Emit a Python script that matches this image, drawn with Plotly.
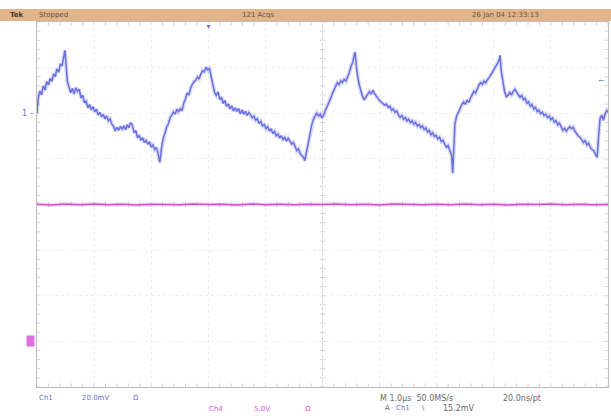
import plotly.graph_objects as go

# ---------------- data ----------------
# Channel 1 (mV) vs time (us, relative to trigger)
ch1_t = [-3.00,-2.98,-2.95,-2.92,-2.89,-2.86,-2.83,-2.80,-2.77,-2.74,-2.71,-2.68,-2.65,-2.62,-2.59,-2.56,-2.53,-2.51,
         -2.49,-2.47,-2.44,-2.41,-2.38,-2.35,-2.32,-2.29,-2.26,-2.23,-2.20,-2.17,-2.14,-2.11,-2.08,-2.05,-2.02,-1.99,
         -1.96,-1.93,-1.90,-1.87,-1.84,-1.81,-1.78,-1.75,-1.72,-1.69,-1.66,-1.63,-1.60,-1.57,-1.54,-1.51,-1.48,-1.45,
         -1.42,-1.39,-1.36,-1.33,-1.30,-1.27,-1.24,-1.21,-1.18,-1.15,-1.12,-1.09,-1.06,-1.03,-1.00,-0.97,-0.94,-0.91,
         -0.88,-0.86,-0.85,-0.82,-0.79,-0.76,-0.73,-0.70,-0.67,-0.64,-0.61,-0.58,-0.55,-0.52,-0.49,-0.46,-0.43,-0.40,
         -0.37,-0.34,-0.31,-0.28,-0.25,-0.22,-0.19,-0.16,-0.13,-0.10,-0.07,-0.04,-0.01,0.02,0.05,0.08,0.11,0.14,0.17,
         0.20,0.23,0.26,0.29,0.32,0.35,0.38,0.41,0.44,0.47,0.50,0.53,0.56,0.59,0.62,0.65,0.68,0.71,0.74,0.77,0.80,
         0.83,0.86,0.89,0.92,0.95,0.98,1.01,1.04,1.07,1.10,1.13,1.16,1.19,1.22,1.25,1.28,1.31,1.34,1.37,1.40,1.43,
         1.46,1.49,1.52,1.55,1.58,1.61,1.64,1.67,1.69,1.72,1.75,1.78,1.81,1.84,1.87,1.90,1.93,1.96,1.99,2.02,2.05,
         2.08,2.11,2.14,2.17,2.20,2.23,2.26,2.29,2.32,2.35,2.38,2.41,2.44,2.47,2.50,2.53,2.55,2.57,2.59,2.61,2.64,
         2.67,2.70,2.73,2.76,2.79,2.82,2.85,2.88,2.91,2.94,2.97,3.00,3.03,3.06,3.09,3.12,3.15,3.18,3.21,3.24,3.27,
         3.30,3.33,3.36,3.39,3.42,3.45,3.48,3.51,3.54,3.57,3.60,3.63,3.66,3.69,3.72,3.75,3.78,3.81,3.84,3.87,3.90,
         3.93,3.96,3.99,4.02,4.05,4.08,4.11,4.14,4.17,4.20,4.23,4.26,4.28,4.30,4.32,4.35,4.38,4.41,4.44,4.47,4.50,
         4.53,4.56,4.59,4.62,4.65,4.68,4.71,4.74,4.77,4.80,4.83,4.86,4.89,4.92,4.95,4.98,5.01,5.04,5.07,5.10,5.11,
         5.13,5.16,5.19,5.22,5.25,5.28,5.31,5.34,5.37,5.40,5.43,5.46,5.49,5.52,5.55,5.58,5.61,5.64,5.67,5.70,5.73,
         5.76,5.79,5.82,5.85,5.88,5.91,5.94,5.97,6.00,6.03,6.06,6.09,6.12,6.15,6.18,6.21,6.24,6.27,6.30,6.33,6.36,
         6.39,6.42,6.45,6.48,6.51,6.54,6.57,6.60,6.63,6.66,6.69,6.72,6.75,6.78,6.81,6.83,6.86,6.89,6.92,6.95,6.98,7.00]
ch1_mv = [0.0,6.5,9.8,8.1,12.0,10.2,13.9,12.4,15.3,14.0,17.2,16.1,19.4,18.0,21.6,20.8,24.9,27.6,
          21.0,14.2,11.5,9.0,10.9,8.4,11.2,9.6,10.5,6.8,7.9,4.6,5.3,2.4,3.8,1.5,2.9,0.6,
          1.8,-0.7,0.4,-1.6,-0.5,-2.4,-1.2,-3.3,-2.5,-4.8,-5.6,-7.8,-6.2,-7.4,-5.8,-6.9,-5.5,-7.2,
          -5.0,-6.4,-4.1,-5.2,-8.6,-7.5,-10.8,-9.6,-11.9,-10.7,-12.8,-11.9,-13.6,-12.5,-14.8,-13.9,-15.9,-15.0,
          -17.6,-19.8,-21.5,-15.4,-10.8,-8.9,-6.0,-4.7,-2.1,-0.8,0.6,-0.4,1.8,0.7,2.0,1.1,4.6,6.2,
          8.9,8.0,11.0,12.6,13.9,14.5,15.9,15.0,17.4,18.6,18.1,20.2,19.0,19.6,16.0,12.2,9.0,7.9,9.4,
          6.0,7.1,4.3,5.6,3.0,4.1,1.9,3.2,1.0,2.4,0.8,2.1,-0.2,1.4,-0.5,0.9,-1.0,0.3,-0.6,-2.0,-1.3,
          -3.1,-2.4,-4.5,-3.6,-5.6,-4.9,-6.7,-5.9,-7.8,-6.8,-8.9,-8.0,-9.9,-9.1,-10.9,-9.8,-11.5,-10.6,-12.2,-11.0,-12.4,
          -13.5,-12.8,-15.1,-16.4,-15.6,-17.8,-18.6,-19.4,-20.8,-17.0,-12.4,-8.6,-5.2,-2.8,-1.0,0.2,-1.2,-0.4,-2.0,-0.9,1.2,
          2.8,4.9,6.3,8.5,10.2,12.1,13.4,12.6,14.2,13.5,14.9,14.1,15.8,17.9,20.6,22.3,24.8,26.8,21.5,16.8,12.9,
          9.6,7.4,5.9,7.0,8.2,9.5,8.3,10.1,8.7,7.4,6.5,5.6,4.8,4.2,3.5,4.0,2.6,3.1,1.3,1.9,0.4,
          1.0,-0.9,-1.8,-1.0,-2.6,-1.9,-3.4,-2.6,-4.1,-3.3,-4.8,-4.0,-5.6,-4.9,-6.3,-5.5,-7.1,-6.4,-8.2,-7.5,-9.4,
          -8.5,-10.2,-9.6,-11.3,-10.5,-12.4,-11.8,-13.6,-14.9,-14.2,-16.5,-18.4,-26.3,-12.0,-4.4,-1.2,0.4,2.6,3.8,4.9,3.9,
          5.8,4.7,6.6,8.3,9.6,8.8,11.0,12.4,13.5,12.6,14.1,13.4,14.8,15.6,16.9,18.2,19.4,21.0,22.1,24.0,25.4,
          18.6,12.8,9.4,7.2,7.9,9.1,8.0,9.6,10.5,9.2,8.1,7.0,7.8,5.9,6.5,4.4,5.0,3.1,3.8,1.9,2.6,
          0.8,1.4,-0.2,0.5,-1.0,-0.4,-1.9,-1.2,-2.8,-2.1,-3.9,-3.2,-5.1,-4.3,-6.2,-7.5,-6.6,-7.9,-6.8,-5.9,-6.8,
          -6.1,-7.9,-9.2,-10.0,-10.5,-11.6,-12.8,-12.0,-13.9,-13.1,-15.0,-15.9,-16.4,-18.0,-19.3,-11.8,-2.4,-0.8,-3.1,-0.2,1.2,0.4]

# Channel 4 (V) vs time (us)
ch4_t = [-3.00,-2.75,-2.50,-2.25,-2.00,-1.75,-1.50,-1.25,-1.00,-0.75,-0.50,-0.25,0.00,0.25,0.50,0.75,1.00,1.25,
         1.50,1.75,2.00,2.25,2.50,2.75,3.00,3.25,3.50,3.75,4.00,4.25,4.50,4.75,5.00,5.25,5.50,5.75,6.00,6.25,6.50,6.75,7.00]
ch4_v = [15.02,14.95,15.05,14.97,15.06,14.98,15.03,14.94,15.04,15.00,14.96,15.05,14.99,15.03,14.95,15.06,14.98,15.02,
         14.96,15.04,14.99,15.05,14.97,15.03,14.95,15.06,15.00,14.96,15.04,14.98,15.05,14.97,15.02,14.95,15.04,14.99,
         15.06,14.97,15.03,14.96,15.01]

ch1_scale_mv = 20.0     # mV/div
ch1_offset_div = 2.0    # ground marker position (div)
ch4_scale_v = 5.0       # V/div
ch4_offset_div = -3.0
trig_level_mv = 15.2

header_left = ["Tek", "Stopped"]
header_mid = "121 Acqs"
header_right = "26 Jan 04 12:33:13"

# ---------------- figure ----------------
BLUE = "#6a70e2"
MAG = "#d452d4"
GRID = "#efefef"
TICK = "#d2d2d2"

y1 = [v / ch1_scale_mv + ch1_offset_div for v in ch1_mv]
y4 = [v / ch4_scale_v + ch4_offset_div for v in ch4_v]

fig = go.Figure()
# soft halo (blurred phosphor look) + main lines
fig.add_trace(go.Scatter(x=ch4_t, y=y4, mode="lines", line=dict(color=MAG, width=3.5), opacity=0.25, hoverinfo="skip"))
fig.add_trace(go.Scatter(x=ch4_t, y=y4, mode="lines", line=dict(color=MAG, width=1.5), hoverinfo="skip"))
fig.add_trace(go.Scatter(x=ch1_t, y=y1, mode="lines", line=dict(color=BLUE, width=4), opacity=0.25, hoverinfo="skip"))
fig.add_trace(go.Scatter(x=ch1_t, y=y1, mode="lines", line=dict(color=BLUE, width=1.5), hoverinfo="skip"))

W, H = 611, 416
L, R, T, B = 37, 3, 22, 29
pw, ph = W - L - R, H - T - B

def px(xp):
    return (xp - L) / pw

def py(yp):
    return (H - B - yp) / ph

shapes = []
# center cross lines
shapes.append(dict(type="line", xref="x", yref="y", x0=2, x1=2, y0=-4, y1=4, line=dict(color="#dadada", width=1), layer="below"))
shapes.append(dict(type="line", xref="x", yref="y", x0=-3, x1=7, y0=0, y1=0, line=dict(color="#dadada", width=1), layer="below"))
# minor ticks along center lines and edges
for i in range(-20, 21):
    yv = i * 0.2
    for xc, hl in ((2, 0.05), (-3, 0.06), (7, 0.06)):
        x0 = max(-3, xc - hl)
        x1 = min(7, xc + hl)
        shapes.append(dict(type="line", xref="x", yref="y", x0=x0, x1=x1, y0=yv, y1=yv,
                           line=dict(color=TICK, width=1), layer="below"))
for i in range(0, 51):
    xv = -3 + i * 0.2
    for yc, hl in ((0, 0.06), (-4, 0.08), (4, 0.08)):
        y0 = max(-4, yc - hl)
        y1_ = min(4, yc + hl)
        shapes.append(dict(type="line", xref="x", yref="y", x0=xv, x1=xv, y0=y0, y1=y1_,
                           line=dict(color=TICK, width=1), layer="below"))
# header bar
shapes.append(dict(type="rect", xref="paper", yref="paper", x0=px(0), x1=px(W), y0=py(21), y1=py(9),
                   fillcolor="#e2b48a", line=dict(width=0), layer="above"))

fig.update_layout(shapes=shapes)

ann = []
def txt(x, y, s, color="#6a6a6a", size=8, anchor="left", bold=False):
    ann.append(dict(x=px(x), y=py(y), xref="paper", yref="paper", text=("<b>%s</b>" % s) if bold else s,
                    showarrow=False, xanchor=anchor, yanchor="middle",
                    font=dict(family="DejaVu Sans", size=size, color=color)))

# header texts
txt(8, 15, header_left[0], color="#4a3a30", size=7, bold=True)
txt(37, 15, header_left[1], color="#6a5040", size=7)
txt(240, 15, header_mid, color="#6a5040", size=7)
txt(470, 15, header_right, color="#6a5040", size=7)

# bottom readouts
txt(37, 398, "Ch1", color=BLUE, size=7)
txt(80, 398, "20.0mV", color=BLUE, size=7)
txt(131, 398, "Ω", color=BLUE, size=7)
txt(207, 409, "Ch4", color=MAG, size=7)
txt(252, 409, "5.0V", color=MAG, size=7)
txt(303, 409, "Ω", color=MAG, size=7)
txt(378, 398, "M 1.0μs  50.0MS/s", color="#6a6a6a", size=8)
txt(501, 398, "20.0ns/pt", color="#6a6a6a", size=8)
txt(383, 408, "A", color="#6a6a6a", size=7)
txt(394, 408, "Ch1", color=BLUE, size=7)
txt(420, 408, "\\", color="#6a6a6a", size=7)
txt(441, 408, "15.2mV", color="#6a6a6a", size=8)

# channel ground markers
ann.append(dict(x=-3, y=ch1_offset_div, xref="x", yref="y", text="1 –", showarrow=False, xanchor="right",
                yanchor="middle", xshift=-1, font=dict(family="DejaVu Sans", size=8, color=BLUE)))
ann.append(dict(x=-3, y=ch4_offset_div, xref="x", yref="y", text="4", showarrow=False, xanchor="right",
                yanchor="middle", xshift=-2, bgcolor="#e070e0", font=dict(family="DejaVu Sans", size=7, color="#e070e0"),
                borderpad=1))
# trigger markers
ann.append(dict(x=0, y=4, xref="x", yref="y", text="▼", showarrow=False, xanchor="center", yanchor="top",
                yshift=2, font=dict(size=7, color=BLUE)))
ann.append(dict(x=7, y=trig_level_mv / ch1_scale_mv + ch1_offset_div, xref="x", yref="y", text="←",
                showarrow=False, xanchor="right", yanchor="middle", font=dict(size=9, color="#4a55b0")))

fig.update_layout(
    annotations=ann,
    width=W, height=H,
    margin=dict(l=L, r=R, t=T, b=B),
    paper_bgcolor="white", plot_bgcolor="white",
    showlegend=False,
    xaxis=dict(range=[-3, 7], tick0=-3, dtick=1, showgrid=True, gridcolor=GRID, griddash="dot",
               zeroline=False, showticklabels=False, ticks="", showline=True, linecolor="#bdbdbd",
               mirror=True, fixedrange=True),
    yaxis=dict(range=[-4, 4], tick0=-4, dtick=1, showgrid=True, gridcolor=GRID, griddash="dot",
               zeroline=False, showticklabels=False, ticks="", showline=True, linecolor="#bdbdbd",
               mirror=True, fixedrange=True),
)

fig.write_html("out.html", config={"displayModeBar": False},
               post_script="document.body.style.margin='0';document.body.style.overflow='hidden';")
